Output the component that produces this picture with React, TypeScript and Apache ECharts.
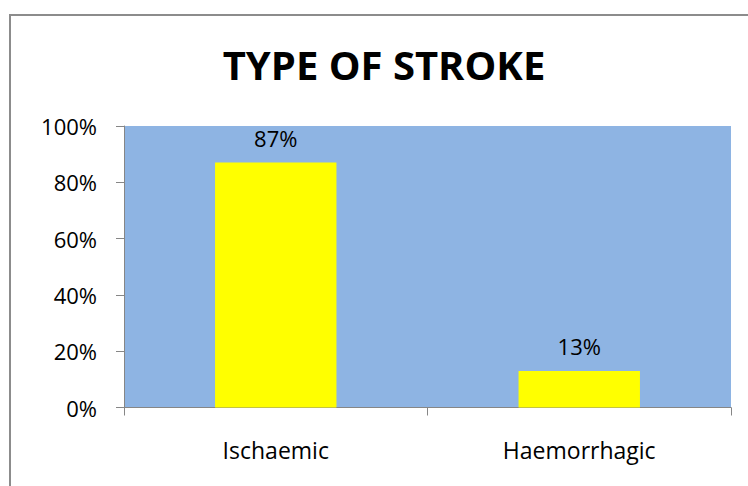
import React, { useEffect, useRef } from "react";
import * as echarts from "echarts";

const categories = ["Ischaemic", "Haemorrhagic"];
const values = [87, 13];
const yTicks = [0, 20, 40, 60, 80, 100];
const titleText = "TYPE OF STROKE";

export default function App() {
  const ref = useRef<HTMLDivElement>(null);
  useEffect(() => {
    if (!ref.current) return;
    const chart = echarts.init(ref.current, null, { renderer: "svg" });
    const font = "'Open Sans', Calibri, sans-serif";
    chart.setOption({
      animation: false,
      backgroundColor: "#ffffff",
      graphic: [
        {
          type: "rect",
          shape: { x: 10, y: 15, width: 760, height: 500 },
          style: { fill: "none", stroke: "#8c8c8c", lineWidth: 2 },
          silent: true,
          z: -1,
        },
        {
          type: "text",
          x: 384,
          y: 64,
          style: {
            text: titleText,
            fontFamily: font,
            fontSize: 40,
            fontWeight: "bold",
            fill: "#000",
            textAlign: "center",
            textVerticalAlign: "middle",
          },
        },
      ],
      grid: {
        left: 124,
        right: 17,
        top: 126,
        bottom: 78.5,
        show: true,
        backgroundColor: "#8EB4E3",
        borderWidth: 0,
      },
      xAxis: {
        type: "category",
        data: categories,
        axisLine: { show: true, lineStyle: { color: "#868686", width: 1 } },
        axisTick: { show: true, alignWithLabel: false, length: 8, lineStyle: { color: "#868686" } },
        axisLabel: { fontFamily: font, fontSize: 23, color: "#000", margin: 31 },
        splitLine: { show: false },
      },
      yAxis: {
        type: "value",
        min: 0,
        max: 100,
        interval: 20,
        axisLine: { show: true, lineStyle: { color: "#868686", width: 1 } },
        axisTick: { show: true, length: 8, lineStyle: { color: "#868686" } },
        axisLabel: {
          fontFamily: font,
          fontSize: 22,
          color: "#000",
          margin: 27,
          formatter: (v: number) => (yTicks.includes(v) ? v + "%" : ""),
        },
        splitLine: { show: false },
      },
      series: [
        {
          type: "bar",
          data: values,
          barWidth: "40%",
          itemStyle: { color: "#FFFF00" },
          label: {
            show: true,
            position: "top",
            distance: 14,
            formatter: (p: any) => p.value + "%",
            fontFamily: font,
            fontSize: 22,
            color: "#000",
          },
        },
      ],
    });
    return () => chart.dispose();
  }, []);
  return <div ref={ref} style={{ width: 748, height: 486, position: "absolute", left: 0, top: 0 }} />;
}
